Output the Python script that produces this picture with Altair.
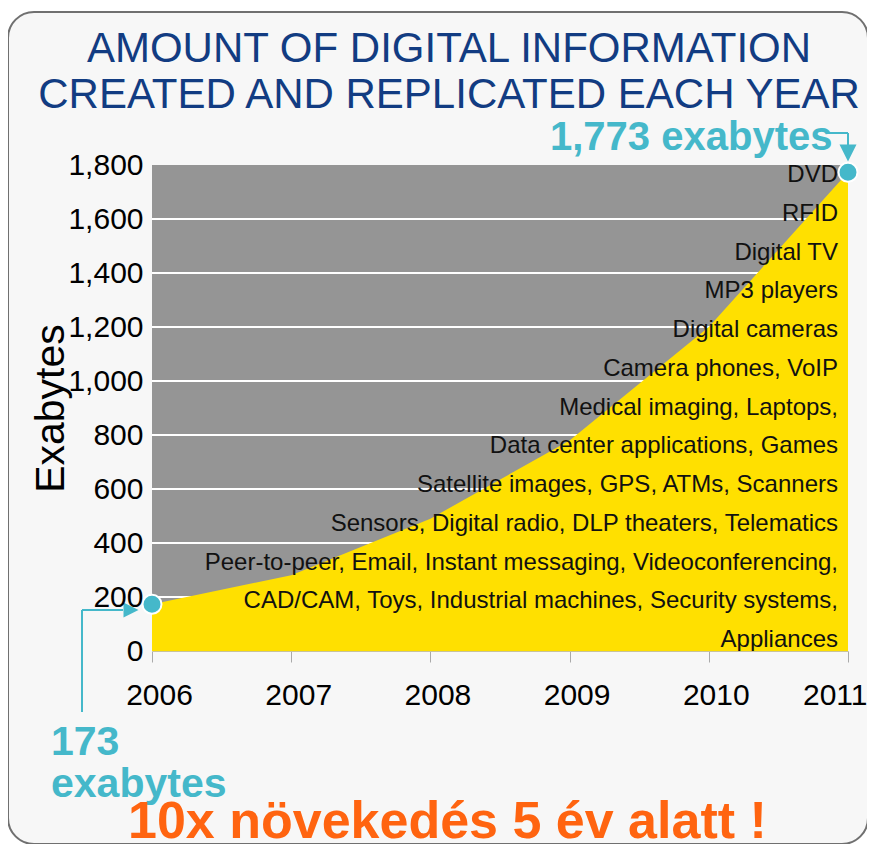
import altair as alt
import pandas as pd

# ---------------- data ----------------
years = [2006, 2007, 2008, 2009, 2010, 2011]
exabytes = [173, 281, 490, 780, 1200, 1773]
y_ticks = [0, 200, 400, 600, 800, 1000, 1200, 1400, 1600, 1800]
grid_values = [200, 400, 600, 800, 1000, 1200, 1400, 1600]
device_lines = [
    "DVD",
    "RFID",
    "Digital TV",
    "MP3 players",
    "Digital cameras",
    "Camera phones, VoIP",
    "Medical imaging, Laptops,",
    "Data center applications, Games",
    "Satellite images, GPS, ATMs, Scanners",
    "Sensors, Digital radio, DLP theaters, Telematics",
    "Peer-to-peer, Email, Instant messaging, Videoconferencing,",
    "CAD/CAM, Toys, Industrial machines, Security systems,",
    "Appliances",
]
title_lines = ["AMOUNT OF DIGITAL INFORMATION", "CREATED AND REPLICATED EACH YEAR"]
start_label = ["173", "exabytes"]
end_label = "1,773 exabytes"
footer = "10x növekedés 5 év alatt !"

# ---------------- styling ----------------
W, H = 696, 486
TEAL = "#45B8CA"
YELLOW = "#FFE000"
GRAY = "#959595"
NAVY = "#123C82"
ORANGE = "#FF6410"
FONT = "Liberation Sans"

df = pd.DataFrame({"year": years, "value": exabytes})
ends = pd.DataFrame({"year": [years[0], years[-1]], "value": [exabytes[0], exabytes[-1]]})
grid_df = pd.DataFrame({"v": grid_values})
one = pd.DataFrame({"k": [0]})

xscale = alt.Scale(domain=[years[0], years[-1]], nice=False, zero=False)
yscale = alt.Scale(domain=[0, 1800], nice=False)

# rounded frame
frame = alt.Chart(one).mark_rect(
    fill="#F7F7F7", stroke="#707070", strokeWidth=2, cornerRadius=26
).encode(x=alt.value(-144), x2=alt.value(716), y=alt.value(-153), y2=alt.value(679))

# gray plot background
plot_bg = alt.Chart(one).mark_rect(color=GRAY).encode(
    x=alt.XDatum(years[0], scale=xscale),
    x2=alt.X2Datum(years[-1]),
    y=alt.YDatum(1800, scale=yscale),
    y2=alt.Y2Datum(0),
)

grid = alt.Chart(grid_df).mark_rule(color="white", strokeWidth=2).encode(
    y=alt.Y("v:Q", scale=yscale, title="Exabytes")
)

last_year = years[-1]

area = alt.Chart(df).mark_area(color=YELLOW, opacity=1).encode(
    x=alt.X(
        "year:Q",
        scale=xscale,
        axis=alt.Axis(
            values=years, format="d", title=None, grid=False, zindex=1,
            labelFont=FONT, labelFontSize=30, labelColor="#000",
            labelAlign=alt.ExprRef(f"datum.value == {last_year} ? 'right' : 'center'"),
            labelOffset=alt.ExprRef(f"datum.value == {last_year} ? 19 : 7"),
            labelPadding=18, labelFlush=False, labelOverlap=False,
            labelBound=False,
            tickSize=11, tickColor="#AAAAAA", tickWidth=1,
            domainColor="#C8C39A", domainWidth=1,
        ),
    ),
    y=alt.Y(
        "value:Q",
        scale=yscale,
        axis=alt.Axis(
            values=y_ticks, format=",d", title="Exabytes", grid=False, zindex=1,
            ticks=False, domain=False,
            labelFont=FONT, labelFontSize=30, labelColor="#000", labelPadding=9,
            labelOverlap=False, labelBound=False,
            titleFont=FONT, titleFontSize=41, titleFontWeight="normal", titleColor="#000",
            titleAngle=-90, titleX=-89, titleY=243, titleAlign="center",
            titleBaseline="alphabetic",
        ),
    ),
)

devices = alt.Chart(one).mark_text(
    text=device_lines, align="right", baseline="alphabetic", font=FONT,
    fontSize=24, lineHeight=38.75, color="#111111",
).encode(x=alt.value(686), y=alt.value(17))

title = alt.Chart(one).mark_text(
    text=title_lines, align="center", baseline="alphabetic", font=FONT,
    fontSize=42, lineHeight=46, color=NAVY,
).encode(x=alt.value(297), y=alt.value(-103))

end_text = alt.Chart(one).mark_text(
    text=end_label, align="left", baseline="alphabetic", font=FONT,
    fontSize=40, fontWeight="bold", color=TEAL,
).encode(x=alt.value(398), y=alt.value(-15))

start_text = alt.Chart(one).mark_text(
    text=start_label, align="left", baseline="alphabetic", font=FONT,
    fontSize=41, fontWeight="bold", lineHeight=42, color=TEAL,
).encode(x=alt.value(-101), y=alt.value(590))

footer_text = alt.Chart(one).mark_text(
    text=footer, align="left", baseline="alphabetic", font=FONT,
    fontSize=52, fontWeight="bold", color=ORANGE,
).encode(x=alt.value(-24), y=alt.value(673))

# arrows
r_h = alt.Chart(one).mark_rule(color=TEAL, strokeWidth=2).encode(
    x=alt.value(675), x2=alt.value(696), y=alt.value(-32))
r_v = alt.Chart(one).mark_rule(color=TEAL, strokeWidth=2).encode(
    x=alt.value(696), y=alt.value(-32), y2=alt.value(-14))
r_head = alt.Chart(one).mark_point(
    shape="M-1,-1L1,-1L0,1Z", filled=True, color=TEAL, opacity=1, size=289
).encode(x=alt.value(696), y=alt.value(-12))

l_v = alt.Chart(one).mark_rule(color=TEAL, strokeWidth=2).encode(
    x=alt.value(-70), y=alt.value(445), y2=alt.value(547))
l_h = alt.Chart(one).mark_rule(color=TEAL, strokeWidth=2).encode(
    x=alt.value(-70), x2=alt.value(-29), y=alt.value(445))
l_head = alt.Chart(one).mark_point(
    shape="M-1,-1L1,0L-1,1Z", filled=True, color=TEAL, opacity=1, size=225
).encode(x=alt.value(-21), y=alt.value(445))

dots = alt.Chart(ends).mark_circle(
    fill=TEAL, stroke="white", strokeWidth=2, opacity=1, size=360
).encode(
    x=alt.X("year:Q", scale=xscale),
    y=alt.Y("value:Q", scale=yscale, title="Exabytes"),
)

chart = alt.layer(
    frame, plot_bg, grid, area, devices, title, end_text, start_text, footer_text,
    r_h, r_v, r_head, l_v, l_h, l_head, dots,
).properties(
    width=W, height=H,
    autosize=alt.AutoSizeParams(type="none"),
    padding={"left": 144, "top": 157, "right": 19, "bottom": 193},
    background="white",
).configure_view(stroke=None)

chart.save("out.html", embed_options={"renderer": "svg", "actions": False})
